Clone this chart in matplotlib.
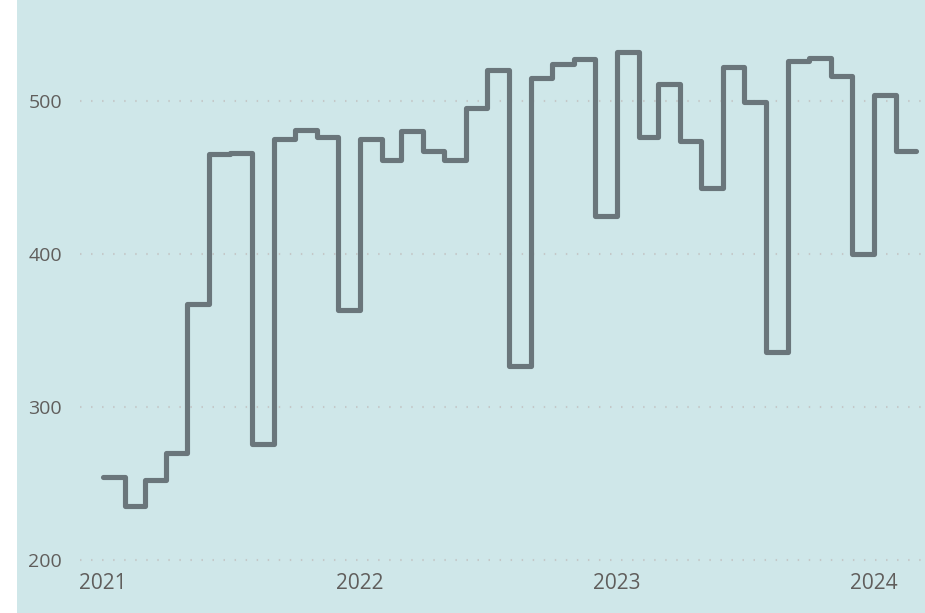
import matplotlib.pyplot as plt
import matplotlib.dates as mdates
import pandas as pd

months = pd.date_range("2021-01-01", periods=38, freq="MS")
values = [254, 235, 252, 270, 367, 465, 466, 276, 475, 481, 476, 363,
          475, 461, 480, 467, 461, 495, 520, 327, 515, 524, 527, 425,
          532, 476, 511, 474, 443, 522, 499, 336, 526, 528, 516, 400,
          504, 467]
year_ticks = pd.to_datetime(["2021-01-01", "2022-01-01", "2023-01-01", "2024-01-01"])
year_labels = ["2021", "2022", "2023", "2024"]
y_ticks = [200, 300, 400, 500]

bg = "#cfe7e9"
txt = "#605e5c"
plt.rcParams["font.family"] = ["Open Sans", "DejaVu Sans"]

fig = plt.figure(figsize=(9.25, 6.13), dpi=100, facecolor=bg)
# white strip on the left edge
fig.patches.append(plt.Rectangle((0, 0), 17 / 925, 1, transform=fig.transFigure,
                                 facecolor="white", edgecolor="none"))
ax = fig.add_axes([80 / 925, 48 / 613, 845 / 925, 565 / 613])
ax.set_facecolor(bg)

# step line: each month holds its value until the next month starts
edges = mdates.date2num(list(months) + [months[-1] + pd.offsets.MonthBegin(1)])
ax.stairs(values, edges, baseline=None, color="#6a767b", linewidth=3.7,
          joinstyle="round", capstyle="round", zorder=3)

x0 = edges[0] - (103 - 80) / 21.4 * 30.4
x1 = edges[0] + (925 - 103) / 21.4 * 30.4
ax.set_xlim(x0, x1)
ax.set_ylim(196.7, 565.8)

ax.set_yticks(y_ticks)
ax.set_yticklabels([str(v) for v in y_ticks])
ax.set_xticks(mdates.date2num(year_ticks))
ax.set_xticklabels(year_labels)
ax.tick_params(axis="y", length=0, pad=13, labelsize=14, labelcolor=txt)
ax.tick_params(axis="x", length=0, pad=6, labelsize=15, labelcolor=txt)

ax.grid(axis="y", color="#c4c8c8", linewidth=1.5, linestyle=(0, (0.7, 4.6)))
ax.grid(axis="x", visible=False)
for s in ax.spines.values():
    s.set_visible(False)

fig.savefig("out.png", dpi=100, facecolor=fig.get_facecolor())
